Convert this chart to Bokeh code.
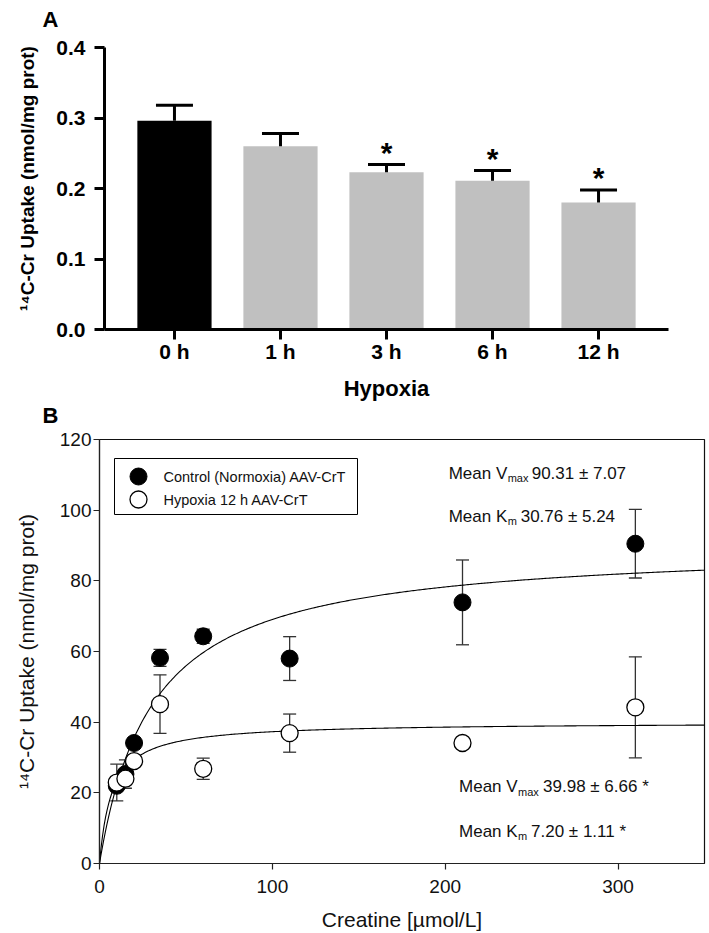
import numpy as np
from bokeh.plotting import figure
from bokeh.models import (ColumnDataSource, Whisker, TeeHead, Label, FactorRange, Range1d,
                          PrintfTickFormatter, FixedTicker, BoxAnnotation, Title)
from bokeh.embed import file_html
from bokeh.resources import INLINE
from bokeh.core.properties import value

# ---------------- Panel A data ----------------
hours = ["0 h", "1 h", "3 h", "6 h", "12 h"]
uptake_a = [0.296, 0.260, 0.223, 0.211, 0.180]
sem_a = [0.022, 0.018, 0.011, 0.0145, 0.018]
signif_a = [False, False, True, True, True]
y_ticks_a = [0.0, 0.1, 0.2, 0.3, 0.4]

# ---------------- Panel B data ----------------
creatine = [10, 15, 20, 35, 60, 110, 210, 310]
control = [22.0, 25.3, 34.1, 58.2, 64.3, 58.0, 73.9, 90.5]
control_err = [1.0, 4.0, 1.0, 2.4, 2.0, 6.2, 12.0, 9.7]
hypoxia = [22.9, 24.0, 29.0, 45.1, 26.8, 36.9, 34.1, 44.2]
hypoxia_err = [5.2, 1.0, 1.0, 8.3, 3.0, 5.4, 1.0, 14.3]
vmax_ctrl, vmax_ctrl_se = 90.31, 7.07
km_ctrl, km_ctrl_se = 30.76, 5.24
vmax_hyp, vmax_hyp_se = 39.98, 6.66
km_hyp, km_hyp_se = 7.20, 1.11
x_ticks_b = [0, 100, 200, 300]
y_ticks_b = [0, 20, 40, 60, 80, 100, 120]
series_names = ["Control (Normoxia) AAV-CrT", "Hypoxia 12 h AAV-CrT"]

FONT = "Liberation Sans"
W = 709
HA = 430
HB = 933 - HA

# =============== Panel A ===============
A_TOP, A_BOTTOM, A_AXIS_TOP = 27, 329, 47      # frame top, frame bottom, pixel of 0.4
y_axis_max_a = y_ticks_a[-1]
y_end_a = y_axis_max_a * (A_BOTTOM - A_TOP) / (A_BOTTOM - A_AXIS_TOP)
pa = figure(width=W, height=HA,
            x_range=FactorRange(*hours, range_padding=0.16, range_padding_units="absolute"),
            y_range=Range1d(0, y_end_a), output_backend="svg", toolbar_location=None,
            min_border_left=104, min_border_right=41, min_border_top=A_TOP,
            min_border_bottom=HA - A_BOTTOM)
pa.xgrid.visible = False
pa.ygrid.visible = False
pa.outline_line_color = None

src_a = ColumnDataSource(dict(
    hour=hours, uptake=uptake_a,
    upper=[u + e for u, e in zip(uptake_a, sem_a)],
    color=["black" if i == 0 else "#c0c0c0" for i in range(len(hours))],
))
pa.vbar(x="hour", top="uptake", width=0.7, fill_color="color", line_color=None, source=src_a)
pa.add_layout(Whisker(base="hour", lower="uptake", upper="upper", source=src_a,
                      line_width=3, line_color="black", level="annotation",
                      upper_head=TeeHead(size=37, line_width=3, line_color="black"),
                      lower_head=None))
sig_src = ColumnDataSource(dict(
    hour=[h for h, s in zip(hours, signif_a) if s],
    y=[u + e for u, e, s in zip(uptake_a, sem_a, signif_a) if s],
    t=["*" for s in signif_a if s],
))
pa.text(x="hour", y="y", text="t", source=sig_src, text_font=value(FONT),
        text_font_style="bold", text_font_size="30px", text_align="center",
        text_baseline="alphabetic", text_color="black", y_offset=-12)

pa.yaxis.ticker = FixedTicker(ticks=y_ticks_a)
pa.yaxis.formatter = PrintfTickFormatter(format="%.1f")
pa.yaxis.bounds = (0, y_axis_max_a)
for ax in (pa.xaxis[0], pa.yaxis[0]):
    ax.axis_line_width = 3
    ax.axis_line_color = "black"
    ax.major_tick_line_width = 3
    ax.major_tick_line_color = "black"
    ax.major_tick_in = 0
    ax.major_tick_out = 10
    ax.minor_tick_line_color = None
    ax.major_label_text_font = FONT
    ax.major_label_text_font_style = "bold"
    ax.major_label_text_font_size = "21px"
    ax.major_label_text_color = "black"
    ax.axis_label_text_font = FONT
    ax.axis_label_text_font_style = "bold"
    ax.axis_label_text_color = "black"
pa.yaxis.axis_label = "¹⁴C-Cr Uptake (nmol/mg prot)"
pa.yaxis.axis_label_text_font_size = "19px"
pa.xaxis.axis_label = "Hypoxia"
pa.xaxis.axis_label_text_font_size = "22px"
pa.xaxis.major_label_standoff = 0
pa.yaxis.major_label_standoff = 9
pa.yaxis.axis_label_standoff = 15
pa.xaxis.axis_label_standoff = 10

pa.title.text = "A"
pa.title.align = "left"
pa.title.offset = -62
pa.title.standoff = -8
pa.title.text_font = FONT
pa.title.text_font_style = "bold"
pa.title.text_font_size = "22px"
pa.title.text_color = "black"

pa.add_layout(Title(text="B", align="left", offset=-62, standoff=-6, text_font=FONT,
                    text_font_style="bold", text_font_size="22px", text_color="black"),
              "below")

# =============== Panel B ===============
FW, FH = 605, 424
X_END, Y_END = 350, 120
pb = figure(width=W, height=HB, x_range=Range1d(0, X_END), y_range=Range1d(0, Y_END),
            output_backend="svg", toolbar_location=None,
            min_border_left=99, min_border_right=W - 99 - FW, min_border_top=439 - HA,
            min_border_bottom=HB - (439 - HA) - FH)
pb.xgrid.visible = False
pb.ygrid.visible = False
pb.outline_line_color = "#111111"
pb.outline_line_width = 1.2
pb.outline_line_alpha = 1.0

xs = np.linspace(0, X_END, 400)
pb.line(xs, vmax_ctrl * xs / (km_ctrl + xs), line_color="black", line_width=1.1)
pb.line(xs, vmax_hyp * xs / (km_hyp + xs), line_color="black", line_width=1.1)

src_c = ColumnDataSource(dict(x=creatine, y=control,
                              lo=[y - e for y, e in zip(control, control_err)],
                              hi=[y + e for y, e in zip(control, control_err)]))
src_h = ColumnDataSource(dict(x=creatine, y=hypoxia,
                              lo=[y - e for y, e in zip(hypoxia, hypoxia_err)],
                              hi=[y + e for y, e in zip(hypoxia, hypoxia_err)]))
for s in (src_c, src_h):
    pb.add_layout(Whisker(base="x", lower="lo", upper="hi", source=s, level="underlay",
                          line_color="#333333", line_width=1.3,
                          upper_head=TeeHead(size=13, line_width=1.3, line_color="#333333"),
                          lower_head=TeeHead(size=13, line_width=1.3, line_color="#333333")))
pb.scatter(x="x", y="y", source=src_c, size=17, fill_color="black", line_color="black")
pb.scatter(x="x", y="y", source=src_h, size=17, fill_color="white", line_color="black",
           line_width=1.3)

pb.xaxis.ticker = FixedTicker(ticks=x_ticks_b)
pb.yaxis.ticker = FixedTicker(ticks=y_ticks_b)
for ax in (pb.xaxis[0], pb.yaxis[0]):
    ax.axis_line_width = 1.2
    ax.axis_line_color = "#222222"
    ax.major_tick_line_width = 1.2
    ax.major_tick_line_color = "#222222"
    ax.major_tick_in = 0
    ax.major_tick_out = 6
    ax.minor_tick_line_color = None
    ax.major_label_text_font = FONT
    ax.major_label_text_font_size = "19px"
    ax.major_label_text_color = "#111111"
    ax.axis_label_text_font = FONT
    ax.axis_label_text_font_style = "normal"
    ax.axis_label_text_font_size = "21px"
    ax.axis_label_text_color = "#111111"
pb.yaxis.axis_label = "¹⁴C-Cr Uptake (nmol/mg prot)"
pb.xaxis.axis_label = "Creatine [µmol/L]"
pb.xaxis.major_label_standoff = 10
pb.yaxis.major_label_standoff = 2
pb.xaxis.axis_label_standoff = 12
pb.yaxis.axis_label_standoff = 19

# legend (drawn by hand so the symbols keep the plot's marker size)
LEG_L, LEG_R, LEG_T, LEG_B = 15, 258, 19, 75  # px from frame left / top
pb.add_layout(BoxAnnotation(left=LEG_L, right=LEG_R, top=FH - LEG_T, bottom=FH - LEG_B,
                            left_units="screen", right_units="screen",
                            top_units="screen", bottom_units="screen",
                            fill_color=None, line_color="black", line_width=1,
                            line_alpha=1, level="underlay"))
row_px = [37, 60]
sym_px = 39
pb.scatter(x=[sym_px / FW * X_END], y=[(FH - row_px[0]) / FH * Y_END], size=17,
           fill_color="black", line_color="black")
pb.scatter(x=[sym_px / FW * X_END], y=[(FH - row_px[1]) / FH * Y_END], size=17,
           fill_color="white", line_color="black", line_width=1.3)
for name, r in zip(series_names, row_px):
    pb.add_layout(Label(x=64, y=FH - r, x_units="screen", y_units="screen", text=name,
                        text_font=FONT, text_font_size="14.5px", text_baseline="middle",
                        text_align="left", text_color="#111111"))

# parameter annotations
def param_line(x, y, main, sub, rest, rest_dx):
    common = dict(x=x, y=y, text_font=FONT, text_color="#111111",
                  text_baseline="alphabetic", text_align="left")
    pb.add_layout(Label(text=main, text_font_size="17px", **common))
    pb.add_layout(Label(text=sub, text_font_size="11px", x_offset=59, y_offset=-5, **common))
    pb.add_layout(Label(text=rest, text_font_size="17px", x_offset=rest_dx, **common))

param_line(202, 110.4, "Mean V", "max", f"{vmax_ctrl:.2f} ± {vmax_ctrl_se:.2f}", 83)
param_line(202, 98.3, "Mean K", "m", f"{km_ctrl:.2f} ± {km_ctrl_se:.2f}", 72)
param_line(208, 21.7, "Mean V", "max", f"{vmax_hyp:.2f} ± {vmax_hyp_se:.2f} *", 84)
param_line(208, 9.1, "Mean K", "m", f"{km_hyp:.2f} ± {km_hyp_se:.2f} *", 72)

open("out.html", "w").write(file_html([pa, pb], INLINE))
